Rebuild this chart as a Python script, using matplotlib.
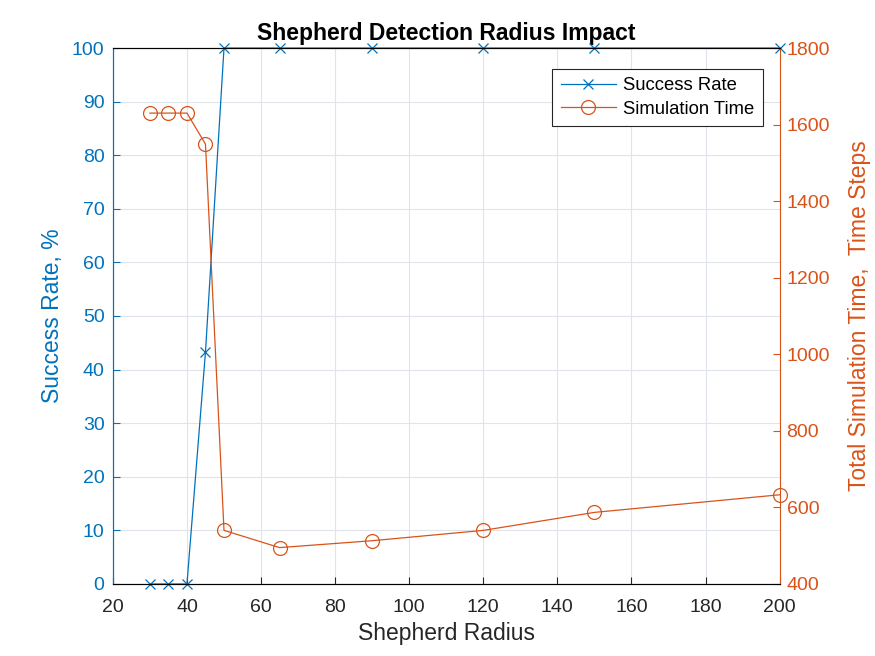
import matplotlib.pyplot as plt

plt.rcParams['font.family'] = ['Liberation Sans', 'DejaVu Sans']

radius = [30, 35, 40, 45, 50, 65, 90, 120, 150, 200]
success_rate = [0, 0, 0, 43.3, 100, 100, 100, 100, 100, 100]
sim_time = [1630, 1630, 1630, 1549, 540, 495, 513, 540, 587, 633]

blue = '#0072BD'
orange = '#D95319'
grey = '#262626'

fig = plt.figure(figsize=(8.75, 6.56), dpi=100)
ax = fig.add_axes([0.129, 0.1098, 0.762, 0.817])
ax2 = ax.twinx()

l1, = ax.plot(radius, success_rate, color=blue, lw=0.9, marker='x', ms=7,
              mew=0.9, label='Success Rate', clip_on=False, zorder=5)
l2, = ax2.plot(radius, sim_time, color=orange, lw=0.9, marker='o', ms=10,
               mfc='none', mew=0.9, label='Simulation Time', clip_on=False)

ax.set_xlim(20, 200)
ax.set_ylim(0, 100)
ax2.set_ylim(400, 1800)
ax.set_xticks(range(20, 201, 20))
ax.set_yticks(range(0, 101, 10))
ax2.set_yticks(range(400, 1801, 200))

ax.grid(True, color='#dfe3ea', lw=0.8)
ax.set_axisbelow(True)

ax.tick_params(axis='x', colors=grey, labelsize=14, direction='in', length=5, pad=11)
ax.tick_params(axis='y', colors=blue, labelsize=14, direction='in', length=5, pad=6)
ax2.tick_params(axis='y', colors=orange, labelsize=14, direction='in', length=5, pad=5)

for sp in ['top', 'bottom']:
    ax.spines[sp].set_color(grey)
ax.spines['left'].set_color(blue)
ax2.spines['left'].set_color(blue)
ax2.spines['right'].set_color(orange)
ax.spines['right'].set_visible(False)

ax.set_xlabel('Shepherd Radius', fontsize=16.5, color=grey, labelpad=4)
ax.set_ylabel('Success Rate, %', fontsize=16.5, color=blue, labelpad=6)
ax2.set_ylabel('Total Simulation Time,  Time Steps', fontsize=16.5, color=orange,
               labelpad=13)
ax.set_title('Shepherd Detection Radius Impact', fontsize=16.5, fontweight='bold',
             pad=6)

leg = ax.legend(handles=[l1, l2], loc='upper right', fontsize=13.3,
                bbox_to_anchor=(0.975, 0.961), fancybox=False, framealpha=1,
                edgecolor=grey, borderpad=0.45, handlelength=3.0,
                handletextpad=0.4, labelspacing=0.35, borderaxespad=0)
leg.get_frame().set_linewidth(0.8)

fig.savefig('out.png', dpi=100)
